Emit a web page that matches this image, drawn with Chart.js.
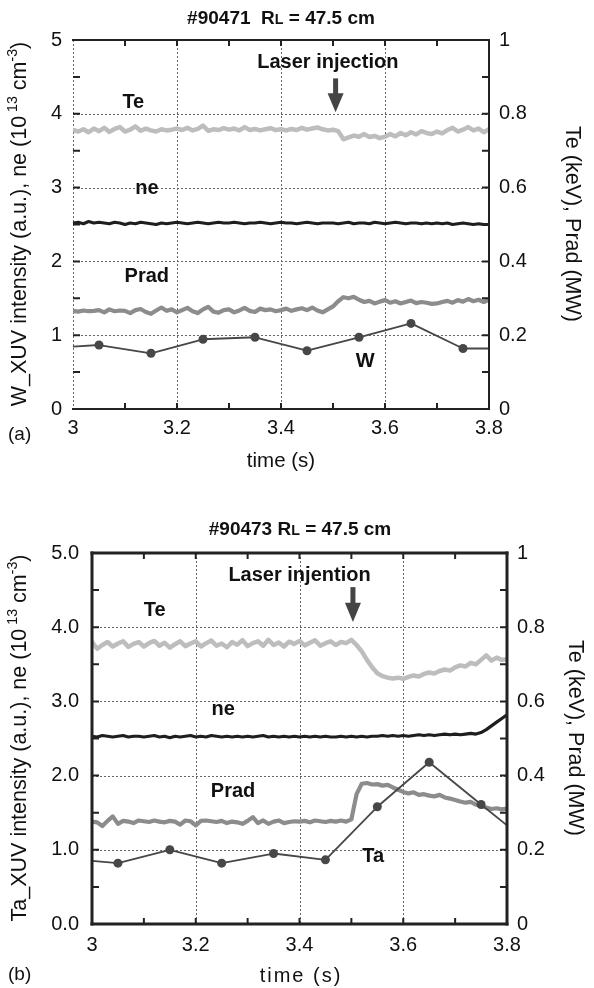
<!DOCTYPE html>
<html><head><meta charset="utf-8">
<script src="https://cdn.jsdelivr.net/npm/chart.js@4.4.0/dist/chart.umd.min.js"></script>
<style>
html,body{margin:0;padding:0;background:#fff;width:594px;height:988px;overflow:hidden}
.box{position:absolute;left:0;width:594px;height:494px}
#boxA{top:0}
#boxB{top:494px}
</style></head><body>
<div class="box" id="boxA"><canvas id="cA" width="594" height="494"></canvas></div>
<div class="box" id="boxB"><canvas id="cB" width="594" height="494"></canvas></div>
<script>
// ---------- DATA ----------
const times = [
 3.00,3.01,3.02,3.03,3.04,3.05,3.06,3.07,3.08,3.09,
 3.10,3.11,3.12,3.13,3.14,3.15,3.16,3.17,3.18,3.19,
 3.20,3.21,3.22,3.23,3.24,3.25,3.26,3.27,3.28,3.29,
 3.30,3.31,3.32,3.33,3.34,3.35,3.36,3.37,3.38,3.39,
 3.40,3.41,3.42,3.43,3.44,3.45,3.46,3.47,3.48,3.49,
 3.50,3.51,3.52,3.53,3.54,3.55,3.56,3.57,3.58,3.59,
 3.60,3.61,3.62,3.63,3.64,3.65,3.66,3.67,3.68,3.69,
 3.70,3.71,3.72,3.73,3.74,3.75,3.76,3.77,3.78,3.79,
 3.80];

// (a) shot #90471
const teA = [ // keV
 0.756,0.752,0.758,0.750,0.760,0.753,0.762,0.751,0.759,0.764,
 0.752,0.757,0.766,0.754,0.760,0.755,0.752,0.758,0.755,0.757,
 0.760,0.756,0.762,0.755,0.759,0.768,0.754,0.758,0.756,0.761,
 0.757,0.760,0.755,0.764,0.756,0.759,0.755,0.758,0.761,0.756,
 0.758,0.755,0.759,0.756,0.762,0.757,0.760,0.763,0.758,0.755,
 0.757,0.753,0.731,0.736,0.741,0.738,0.745,0.737,0.740,0.734,
 0.738,0.745,0.739,0.748,0.742,0.750,0.744,0.753,0.748,0.745,
 0.752,0.747,0.756,0.762,0.752,0.757,0.764,0.755,0.760,0.750,
 0.758];
const neA = [ // 10^13 cm^-3
 2.52,2.53,2.51,2.54,2.52,2.53,2.52,2.51,2.53,2.52,
 2.50,2.52,2.51,2.53,2.52,2.51,2.50,2.52,2.51,2.52,
 2.53,2.52,2.51,2.52,2.53,2.52,2.51,2.52,2.53,2.52,
 2.52,2.53,2.52,2.51,2.52,2.52,2.53,2.52,2.51,2.52,
 2.53,2.52,2.52,2.51,2.52,2.53,2.52,2.51,2.52,2.52,
 2.52,2.51,2.52,2.53,2.51,2.52,2.52,2.51,2.53,2.52,
 2.51,2.52,2.53,2.52,2.51,2.52,2.52,2.51,2.52,2.51,
 2.52,2.51,2.52,2.50,2.51,2.52,2.51,2.50,2.51,2.50,
 2.50];
const pradA = [ // MW
 0.266,0.264,0.267,0.265,0.266,0.268,0.262,0.270,0.265,0.267,
 0.266,0.260,0.268,0.271,0.263,0.258,0.267,0.275,0.266,0.270,
 0.262,0.268,0.274,0.265,0.260,0.270,0.277,0.264,0.261,0.268,
 0.270,0.262,0.267,0.274,0.266,0.263,0.272,0.268,0.270,0.265,
 0.268,0.272,0.266,0.270,0.273,0.268,0.275,0.267,0.262,0.270,
 0.278,0.292,0.303,0.300,0.304,0.296,0.290,0.293,0.286,0.291,
 0.295,0.288,0.292,0.286,0.290,0.294,0.287,0.290,0.288,0.285,
 0.286,0.290,0.293,0.288,0.295,0.291,0.298,0.292,0.296,0.290,
 0.296];
const wTimes = [3.00,3.05,3.15,3.25,3.35,3.45,3.55,3.65,3.75,3.80];
const wXuv   = [0.845,0.867,0.755,0.945,0.972,0.790,0.972,1.160,0.820,0.820];

// (b) shot #90473
const teB = [
 0.760,0.742,0.752,0.760,0.748,0.756,0.762,0.747,0.755,0.760,
 0.748,0.757,0.763,0.750,0.758,0.745,0.754,0.762,0.749,0.756,
 0.762,0.748,0.757,0.764,0.750,0.756,0.746,0.760,0.753,0.765,
 0.749,0.757,0.762,0.750,0.766,0.752,0.759,0.748,0.761,0.755,
 0.763,0.751,0.758,0.765,0.750,0.757,0.762,0.752,0.760,0.757,
 0.766,0.752,0.735,0.712,0.692,0.676,0.668,0.664,0.662,0.664,
 0.661,0.666,0.670,0.667,0.674,0.678,0.675,0.682,0.686,0.683,
 0.692,0.697,0.694,0.704,0.700,0.712,0.724,0.710,0.718,0.712,
 0.714];
const neB = [
 2.53,2.52,2.54,2.53,2.52,2.53,2.54,2.52,2.53,2.53,
 2.52,2.53,2.54,2.52,2.53,2.51,2.53,2.52,2.53,2.54,
 2.52,2.53,2.52,2.54,2.53,2.52,2.53,2.52,2.53,2.52,
 2.53,2.52,2.53,2.54,2.52,2.53,2.52,2.53,2.52,2.53,
 2.52,2.53,2.52,2.53,2.52,2.53,2.52,2.52,2.53,2.52,
 2.53,2.52,2.53,2.52,2.53,2.53,2.54,2.53,2.54,2.53,
 2.54,2.53,2.54,2.55,2.54,2.55,2.54,2.55,2.56,2.55,
 2.56,2.55,2.56,2.57,2.56,2.58,2.62,2.67,2.72,2.77,
 2.82];
const pradB = [
 0.276,0.274,0.264,0.278,0.290,0.270,0.278,0.276,0.272,0.279,
 0.277,0.275,0.279,0.276,0.274,0.278,0.276,0.268,0.279,0.277,
 0.266,0.278,0.279,0.277,0.275,0.278,0.272,0.276,0.274,0.270,
 0.278,0.288,0.272,0.279,0.270,0.276,0.279,0.272,0.275,0.277,
 0.276,0.278,0.274,0.279,0.277,0.275,0.278,0.276,0.279,0.276,
 0.282,0.350,0.378,0.380,0.376,0.377,0.373,0.375,0.368,0.362,
 0.356,0.352,0.355,0.348,0.350,0.346,0.344,0.348,0.341,0.338,
 0.334,0.330,0.327,0.329,0.322,0.318,0.314,0.310,0.312,0.309,
 0.311];
const taTimes = [3.00,3.05,3.15,3.25,3.35,3.45,3.55,3.65,3.75,3.80];
const taXuv   = [0.85,0.82,1.00,0.82,0.95,0.865,1.58,2.18,1.61,1.33];

// ticks
const xTickValues = [3, 3.2, 3.4, 3.6, 3.8];
const xTickLabels = ['3', '3.2', '3.4', '3.6', '3.8'];
const yTickValues = [0, 1, 2, 3, 4, 5];
const yTickLabelsA = ['0', '1', '2', '3', '4', '5'];
const yTickLabelsB = ['0.0', '1.0', '2.0', '3.0', '4.0', '5.0'];
const y2TickValues = [0, 0.2, 0.4, 0.6, 0.8, 1];
const y2TickLabels = ['0', '0.2', '0.4', '0.6', '0.8', '1'];
const xMinor = [3.1, 3.2, 3.3, 3.4, 3.5, 3.6, 3.7];
const yMinor = [0.5, 1, 1.5, 2, 2.5, 3, 3.5, 4, 4.5];
const vGridVals = [3.2, 3.4, 3.6];
const hGridVals = [1, 2, 3, 4];

// ---------- STYLE / HELPERS ----------
const FAM = '"Liberation Sans", Arial, Helvetica, sans-serif';
const pts = (xs, ys) => xs.map((t, i) => ({x: t, y: ys[i]}));

function drawRich(ctx, parts, cx, cy, rot, size, weight, spacing) {
  ctx.save();
  ctx.translate(cx, cy);
  ctx.rotate(rot);
  ctx.textAlign = 'left';
  ctx.textBaseline = 'alphabetic';
  if (spacing) ctx.letterSpacing = spacing + 'px';
  let total = 0;
  const m = parts.map(p => {
    const s = (p.sup || p.sub) ? size * (p.scale || 0.66) : size;
    ctx.font = `${weight} ${s}px ${FAM}`;
    const w = ctx.measureText(p.t).width;
    total += w;
    return {p, s, w};
  });
  let xx = -total / 2;
  const base = size * 0.36;
  ctx.fillStyle = '#111';
  m.forEach(({p, s, w}) => {
    ctx.font = `${weight} ${s}px ${FAM}`;
    let dy = base;
    if (p.sup) dy -= size * 0.42;
    if (p.sub) dy += size * 0.02;
    ctx.fillText(p.t, xx, dy);
    xx += w;
  });
  ctx.restore();
}

function decoPlugin(d) {
  return {
    id: 'deco',
    beforeDatasetsDraw(chart) {
      const {ctx, chartArea: a} = chart;
      const x = chart.scales.x, y = chart.scales.y;
      ctx.save();
      ctx.strokeStyle = '#666';
      ctx.lineWidth = 1;
      ctx.setLineDash([2, 2]);
      ctx.beginPath();
      d.vGrid.forEach(v => {
        const px = Math.round(x.getPixelForValue(v)) + 0.5;
        ctx.moveTo(px, a.top); ctx.lineTo(px, a.bottom);
      });
      d.hGrid.forEach(v => {
        const py = Math.round(y.getPixelForValue(v)) + 0.5;
        ctx.moveTo(a.left, py); ctx.lineTo(a.right, py);
      });
      ctx.stroke();
      ctx.restore();
    },
    afterDatasetsDraw(chart) {
      const {ctx, chartArea: a} = chart;
      const x = chart.scales.x, y = chart.scales.y;
      ctx.save();
      // borders
      ctx.strokeStyle = '#222';
      ctx.lineCap = 'square';
      const seg = (x1, y1, x2, y2, w) => { ctx.lineWidth = w; ctx.beginPath(); ctx.moveTo(x1, y1); ctx.lineTo(x2, y2); ctx.stroke(); };
      seg(a.left, a.top, a.right, a.top, d.bw);
      seg(a.right, a.top, a.right, a.bottom, d.bw);
      seg(a.left, a.bottom, a.right, a.bottom, d.bw);
      if (d.leftSolid) seg(a.left, a.top, a.left, a.bottom, d.lw);
      // inner ticks
      ctx.lineWidth = 2;
      ctx.lineCap = 'butt';
      ctx.beginPath();
      xMinor.forEach(v => {
        const px = x.getPixelForValue(v);
        ctx.moveTo(px, a.bottom); ctx.lineTo(px, a.bottom - 6);
        ctx.moveTo(px, a.top); ctx.lineTo(px, a.top + 6);
      });
      yMinor.forEach(v => {
        const py = y.getPixelForValue(v);
        ctx.moveTo(a.left, py); ctx.lineTo(a.left + 7, py);
        ctx.moveTo(a.right, py); ctx.lineTo(a.right - 7, py);
      });
      ctx.stroke();
      // arrow
      const ax = x.getPixelForValue(d.arrow.t);
      const y0 = y.getPixelForValue(d.arrow.top);
      const yb = y.getPixelForValue(d.arrow.base);
      const yt = y.getPixelForValue(d.arrow.tip);
      ctx.fillStyle = '#444';
      ctx.fillRect(ax - 2.5, y0, 5, yb - y0 + 1);
      ctx.beginPath();
      ctx.moveTo(ax - 8, yb); ctx.lineTo(ax + 8, yb); ctx.lineTo(ax, yt); ctx.closePath();
      ctx.fill();
      // series labels
      ctx.fillStyle = '#111';
      ctx.textAlign = 'center';
      ctx.textBaseline = 'middle';
      ctx.font = `bold 20px ${FAM}`;
      d.labels.forEach(l => ctx.fillText(l.text, x.getPixelForValue(l.t), y.getPixelForValue(l.v)));
      ctx.restore();
      // titles
      drawRich(ctx, d.title, d.titlePos[0], d.titlePos[1], 0, 19, 'bold');
      drawRich(ctx, d.yTitle, d.yTitlePos[0], d.yTitlePos[1], -Math.PI / 2, 21.5, 'normal');
      drawRich(ctx, [{t: 'Te (keV), Prad (MW)'}], d.y2TitlePos[0], d.y2TitlePos[1], Math.PI / 2, 21.5, 'normal');
      drawRich(ctx, [{t: 'time (s)'}], d.xTitlePos[0], d.xTitlePos[1], 0, d.xTitleSize, 'normal', d.xSpacing);
      ctx.save();
      ctx.font = `19px ${FAM}`;
      ctx.fillStyle = '#111';
      ctx.textAlign = 'left';
      ctx.textBaseline = 'middle';
      ctx.fillText(d.panel, d.panelPos[0], d.panelPos[1]);
      ctx.restore();
    }
  };
}

function makeChart(id, o) {
  const tickFont = {family: FAM, size: 20};
  return new Chart(document.getElementById(id), {
    type: 'line',
    data: {
      datasets: [
        {label: o.impName, data: pts(o.impT, o.imp), yAxisID: 'y', order: 0,
         borderColor: '#474747', backgroundColor: '#474747', borderWidth: 1.8,
         pointRadius: o.impT.map((t, i) => (i === 0 || i === o.impT.length - 1) ? 0 : 4.5),
         pointBackgroundColor: '#474747', pointBorderWidth: 0},
        {label: 'ne', data: pts(times, o.ne), yAxisID: 'y', order: 1,
         borderColor: '#1e1e1e', borderWidth: 3.2, pointRadius: 0},
        {label: 'Prad', data: pts(times, o.prad), yAxisID: 'y2', order: 2,
         borderColor: '#8c8c8c', borderWidth: 4.2, pointRadius: 0},
        {label: 'Te', data: pts(times, o.te), yAxisID: 'y2', order: 3,
         borderColor: '#bdbdbd', borderWidth: 4.5, pointRadius: 0}
      ]
    },
    options: {
      responsive: false, animation: false, devicePixelRatio: 1,
      layout: {padding: {top: o.padTop, left: 0, right: 0, bottom: 0}},
      plugins: {legend: {display: false}, tooltip: {enabled: false}, title: {display: false}},
      elements: {line: {tension: 0, borderJoinStyle: 'round', borderCapStyle: 'round'}},
      scales: {
        x: {type: 'linear', min: 3, max: 3.8, position: 'bottom',
            afterFit: s => { s.height = o.xH; },
            afterBuildTicks: s => { s.ticks = xTickValues.map(v => ({value: v})); },
            ticks: {callback: (v, i) => xTickLabels[i], font: tickFont, color: '#111', padding: o.xPad, maxRotation: 0, autoSkip: false},
            grid: {display: false, drawTicks: false}, border: {display: false}},
        y: {type: 'linear', min: 0, max: 5, position: 'left',
            afterFit: s => { s.width = o.yW; },
            afterBuildTicks: s => { s.ticks = yTickValues.map(v => ({value: v})); },
            ticks: {callback: (v, i) => o.yLabels[i], font: tickFont, color: '#111', padding: o.yPad, autoSkip: false},
            grid: {display: false, drawTicks: false}, border: {display: false}},
        y2: {type: 'linear', min: 0, max: 1, position: 'right',
            afterFit: s => { s.width = o.y2W; },
            afterBuildTicks: s => { s.ticks = y2TickValues.map(v => ({value: v})); },
            ticks: {callback: (v, i) => y2TickLabels[i], font: tickFont, color: '#111', padding: 10, autoSkip: false},
            grid: {display: false, drawTicks: false}, border: {display: false}}
      }
    },
    plugins: [decoPlugin(o.deco)]
  });
}

makeChart('cA', {
  impName: 'W', impT: wTimes, imp: wXuv, ne: neA, prad: pradA, te: teA,
  padTop: 40, xH: 85, yW: 73, y2W: 105, xPad: 7, yPad: 11, yLabels: yTickLabelsA,
  deco: {
    vGrid: [3.0].concat(vGridVals), hGrid: hGridVals, bw: 2, leftSolid: false, lw: 2,
    arrow: {t: 3.505, top: 4.48, base: 4.28, tip: 4.02},
    labels: [
      {text: 'Laser injection', t: 3.49, v: 4.70},
      {text: 'Te', t: 3.116, v: 4.16},
      {text: 'ne', t: 3.142, v: 2.99},
      {text: 'Prad', t: 3.142, v: 1.80},
      {text: 'W', t: 3.562, v: 0.64}
    ],
    title: [{t: '#90471  R'}, {t: 'L', sub: true, scale: 0.75}, {t: ' = 47.5 cm'}],
    titlePos: [281, 17],
    yTitle: [{t: 'W_XUV intensity (a.u.), ne (10'}, {t: ' 13', sup: true}, {t: ' cm'}, {t: '-3', sup: true}, {t: ')'}],
    yTitlePos: [18, 224],
    y2TitlePos: [574, 224],
    xTitlePos: [281, 460], xTitleSize: 20.5, xSpacing: 0,
    panel: '(a)', panelPos: [8, 435]
  }
});

makeChart('cB', {
  impName: 'Ta', impT: taTimes, imp: taXuv, ne: neB, prad: pradB, te: teB,
  padTop: 59, xH: 64, yW: 92, y2W: 87, xPad: 9, yPad: 13, yLabels: yTickLabelsB,
  deco: {
    vGrid: vGridVals, hGrid: hGridVals, bw: 3, leftSolid: true, lw: 3,
    arrow: {t: 3.503, top: 4.54, base: 4.33, tip: 4.07},
    labels: [
      {text: 'Laser injention', t: 3.40, v: 4.70},
      {text: 'Te', t: 3.121, v: 4.22},
      {text: 'ne', t: 3.253, v: 2.89},
      {text: 'Prad', t: 3.272, v: 1.78},
      {text: 'Ta', t: 3.542, v: 0.905}
    ],
    title: [{t: '#90473 R'}, {t: 'L', sub: true, scale: 0.75}, {t: ' = 47.5 cm'}],
    titlePos: [300, 34],
    yTitle: [{t: 'Ta_XUV intensity (a.u.), ne (10'}, {t: ' 13', sup: true}, {t: ' cm'}, {t: '-3', sup: true}, {t: ')'}],
    yTitlePos: [18, 244],
    y2TitlePos: [577, 244],
    xTitlePos: [301, 481], xTitleSize: 20, xSpacing: 2,
    panel: '(b)', panelPos: [8, 481]
  }
});
</script>
</body></html>
